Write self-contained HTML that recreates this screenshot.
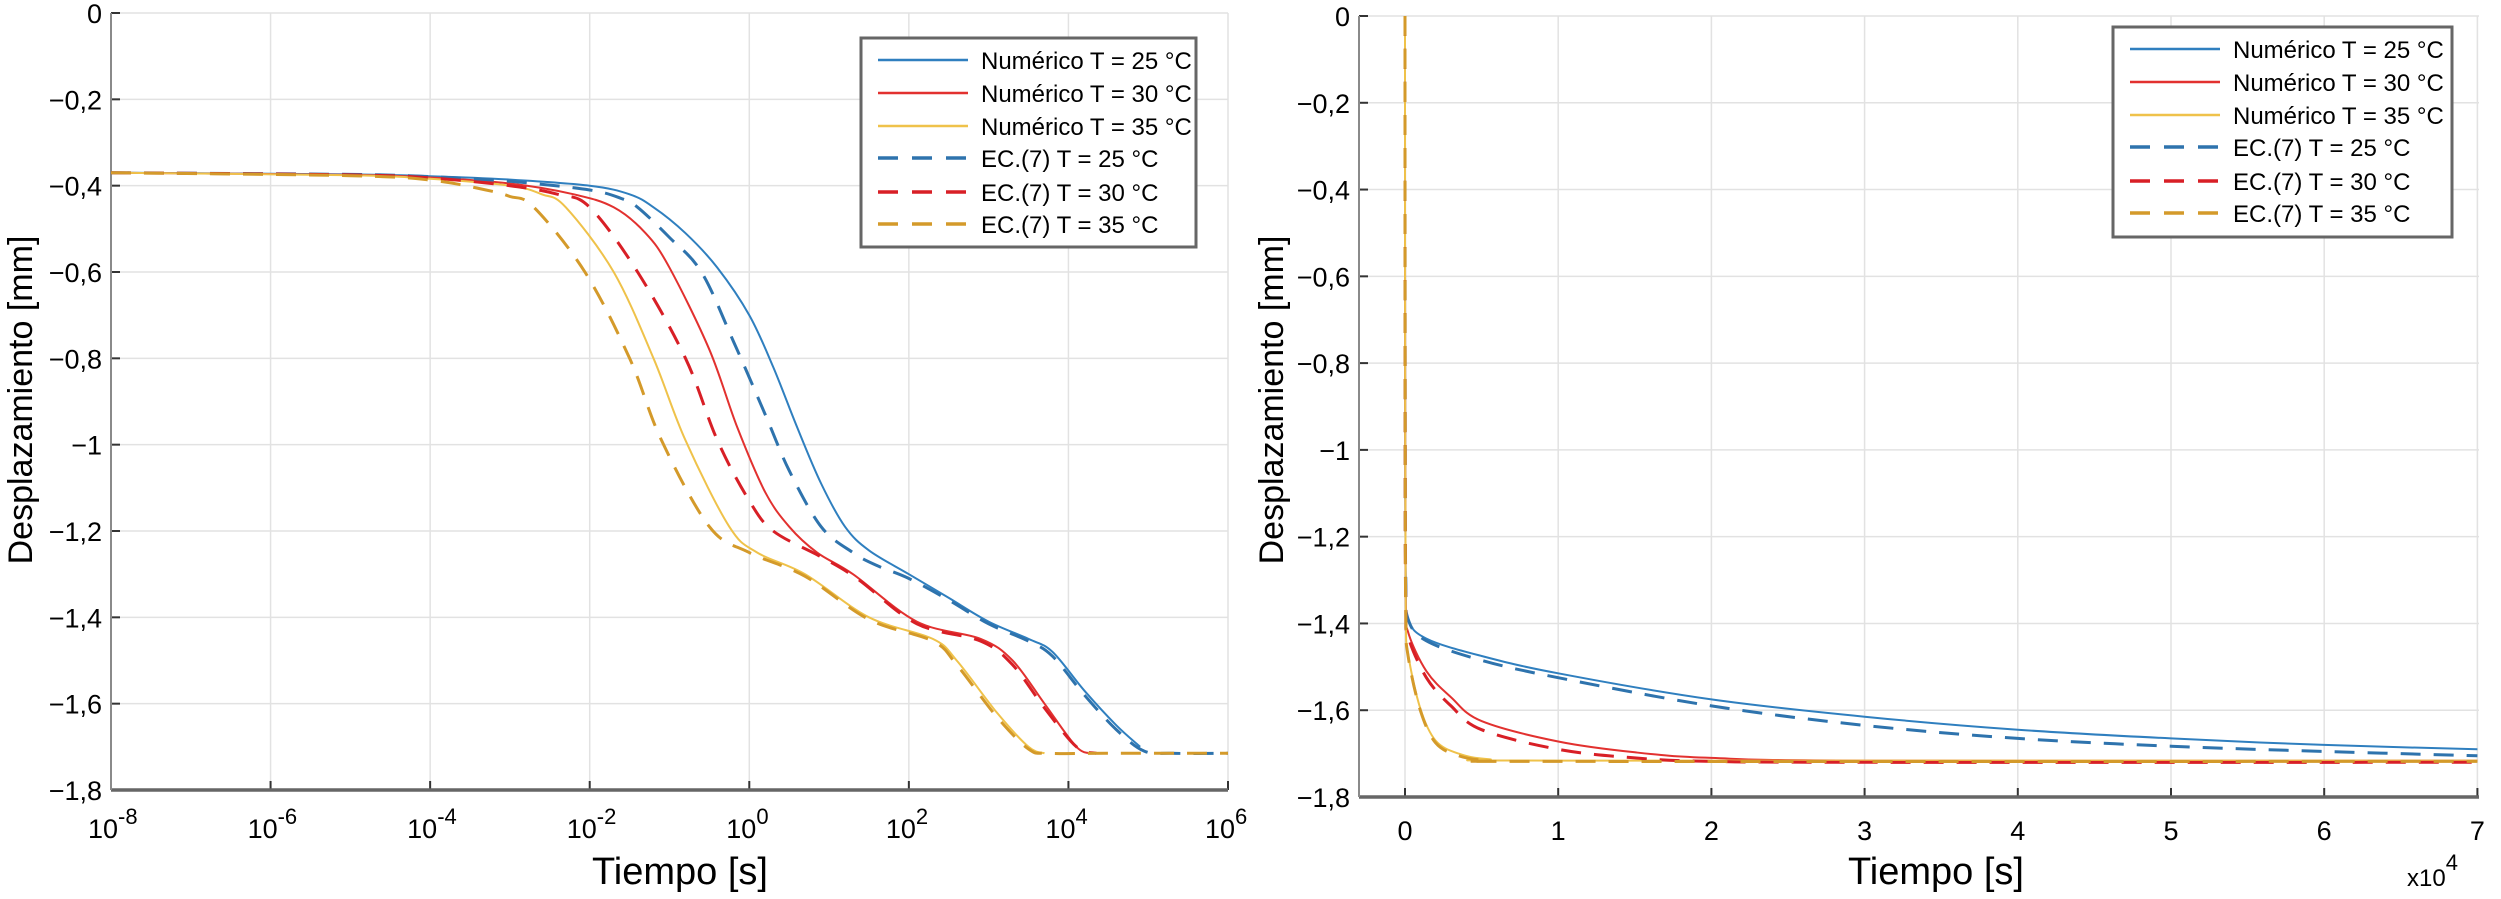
<!DOCTYPE html>
<html><head><meta charset="utf-8">
<style>
html,body{margin:0;padding:0;background:#fff;}
svg{display:block;font-family:"Liberation Sans",Arial,sans-serif;}
</style></head>
<body>
<svg id="fig" width="2501" height="899" viewBox="0 0 2501 899" xmlns="http://www.w3.org/2000/svg"></svg>
<script>
// ---- Left chart data (log10 time vs displacement) ----
const leftYTicks = [0,-0.2,-0.4,-0.6,-0.8,-1,-1.2,-1.4,-1.6,-1.8];
const leftYTickLabels = ["0","\u22120,2","\u22120,4","\u22120,6","\u22120,8","\u22121","\u22121,2","\u22121,4","\u22121,6","\u22121,8"];
const leftXTickExps = [-8,-6,-4,-2,0,2,4,6];
const leftXTickLabels = ["-8","-6","-4","-2","0","2","4","6"];
const blueSolidLogT = [-8,-5,-4,-3,-2,-1.5,-1.2,-0.8,-0.4,0,0.3,0.6,0.9,1.2,1.5,2.0,2.5,3.0,3.5,3.8,4.2,4.6,4.9];
const blueSolidV = [-0.370,-0.374,-0.378,-0.386,-0.40,-0.42,-0.45,-0.51,-0.59,-0.70,-0.82,-0.96,-1.09,-1.19,-1.245,-1.30,-1.355,-1.41,-1.45,-1.48,-1.57,-1.65,-1.70];
const blueDashLogT = [-8,-5,-4,-3,-2,-1.6,-1.4,-1.0,-0.6,-0.2,0.2,0.5,0.9,1.3,1.6,2.0,2.5,3.0,3.5,3.8,4.2,4.6,4.95,5.3,6];
const blueDashV = [-0.370,-0.374,-0.379,-0.39,-0.41,-0.43,-0.45,-0.52,-0.60,-0.76,-0.93,-1.06,-1.19,-1.25,-1.28,-1.31,-1.36,-1.415,-1.455,-1.49,-1.58,-1.66,-1.71,-1.715,-1.715];
const redSolidLogT = [-8,-5,-4,-3,-2.2,-1.7,-1.3,-1.0,-0.5,-0.15,0.2,0.5,0.85,1.3,2.1,2.9,3.3,3.7,4.1,4.3];
const redSolidV = [-0.370,-0.375,-0.381,-0.395,-0.42,-0.45,-0.51,-0.59,-0.78,-0.96,-1.11,-1.19,-1.25,-1.30,-1.41,-1.45,-1.50,-1.60,-1.70,-1.715];
const redDashLogT = [-8,-5,-4,-3,-2.4,-2.0,-1.4,-0.8,-0.4,0,0.3,0.9,1.35,2.1,2.9,3.3,3.7,4.1,4.35];
const redDashV = [-0.370,-0.375,-0.382,-0.40,-0.42,-0.45,-0.60,-0.80,-0.99,-1.13,-1.20,-1.26,-1.31,-1.415,-1.455,-1.51,-1.61,-1.70,-1.715];
const yelSolidLogT = [-8,-5,-4,-3,-2.6,-2.3,-1.7,-1.2,-0.8,-0.25,0.1,0.7,1.5,2.3,2.6,3.1,3.5,3.7];
const yelSolidV = [-0.370,-0.376,-0.384,-0.40,-0.42,-0.45,-0.60,-0.80,-0.99,-1.19,-1.25,-1.30,-1.40,-1.45,-1.50,-1.62,-1.70,-1.715];
const yelDashLogT = [-8,-5,-4,-3.3,-3.0,-2.7,-2.06,-1.5,-1.1,-0.5,0,0.7,1.5,2.3,2.6,3.1,3.5,3.75,4.5,5.5,6];
const yelDashV = [-0.370,-0.377,-0.387,-0.41,-0.425,-0.45,-0.60,-0.80,-0.99,-1.19,-1.25,-1.305,-1.405,-1.455,-1.51,-1.63,-1.705,-1.715,-1.715,-1.715,-1.715];

// ---- Right chart data (time x1e4 s vs displacement) ----
const rightYTicks = [0,-0.2,-0.4,-0.6,-0.8,-1,-1.2,-1.4,-1.6,-1.8];
const rightYTickLabels = leftYTickLabels;
const rightXTicks = [0,1,2,3,4,5,6,7];
const rightXTickLabels = ["0","1","2","3","4","5","6","7"];
const rBlueSolidT = [0,0.001,0.005,0.02,0.14,0.5,1,2,3,4,5,6,7];
const rBlueSolidV = [0,-1.0,-1.30,-1.39,-1.435,-1.475,-1.515,-1.575,-1.615,-1.645,-1.665,-1.68,-1.69];
const rBlueDashT = [0,0.001,0.005,0.02,0.14,0.5,1,2,3,4,5,6,7];
const rBlueDashV = [0,-1.0,-1.30,-1.39,-1.44,-1.485,-1.525,-1.59,-1.635,-1.665,-1.683,-1.695,-1.705];
const rRedSolidT = [0,0.001,0.005,0.02,0.14,0.3,0.5,1,1.5,2,3,7];
const rRedSolidV = [0,-1.0,-1.35,-1.42,-1.51,-1.57,-1.625,-1.672,-1.697,-1.71,-1.716,-1.716];
const rRedDashT = [0,0.001,0.005,0.02,0.14,0.3,0.5,1,1.5,2,3,7];
const rRedDashV = [0,-1.0,-1.36,-1.43,-1.525,-1.59,-1.645,-1.69,-1.71,-1.718,-1.72,-1.72];
const rYelSolidT = [0,0.001,0.005,0.02,0.1,0.2,0.35,0.55,1,7];
const rYelSolidV = [0,-1.0,-1.38,-1.47,-1.596,-1.67,-1.70,-1.713,-1.716,-1.716];
const rYelDashT = [0,0.001,0.005,0.02,0.1,0.2,0.35,0.55,1,7];
const rYelDashV = [0,-1.0,-1.38,-1.475,-1.60,-1.675,-1.705,-1.716,-1.718,-1.718];

const legendLabels = ["Num\u00e9rico T = 25 \u00b0C","Num\u00e9rico T = 30 \u00b0C","Num\u00e9rico T = 35 \u00b0C","EC.(7) T = 25 \u00b0C","EC.(7) T = 30 \u00b0C","EC.(7) T = 35 \u00b0C"];

const NS = "http://www.w3.org/2000/svg";
const svg = document.getElementById('fig');
function mk(tag, attrs, parent){ const e=document.createElementNS(NS,tag); for(const k in attrs) e.setAttribute(k,attrs[k]); (parent||svg).appendChild(e); return e; }

const C = {blue:"#2f7fbf", red:"#e2312f", yel:"#efc24a", bDash:"#2e73ad", rDash:"#d81f26", yDash:"#d49a2a"};
const styles = [
  {c:C.blue,w:2,d:null},{c:C.red,w:2,d:null},{c:C.yel,w:2,d:null},
  {c:C.bDash,w:3,d:"20 13"},{c:C.rDash,w:3,d:"20 13"},{c:C.yDash,w:3,d:"20 13"}];

function smoothPath(pts){
  let d = "M"+pts[0][0].toFixed(1)+","+pts[0][1].toFixed(1);
  for(let i=0;i<pts.length-1;i++){
    const p0=pts[i-1]||pts[i], p1=pts[i], p2=pts[i+1], p3=pts[i+2]||p2;
    const c1=[p1[0]+(p2[0]-p0[0])/6, p1[1]+(p2[1]-p0[1])/6];
    const c2=[p2[0]-(p3[0]-p1[0])/6, p2[1]-(p3[1]-p1[1])/6];
    d+=" C"+c1[0].toFixed(1)+","+c1[1].toFixed(1)+" "+c2[0].toFixed(1)+","+c2[1].toFixed(1)+" "+p2[0].toFixed(1)+","+p2[1].toFixed(1);
  }
  return d;
}

function drawAxes(g, box, xs, ys, yTicks, yLabels, xTickPos){
  xTickPos.forEach(px=>{
    const l=mk('line',{x1:px,y1:box.top,x2:px,y2:box.bottom,stroke:"#e2e2e2","stroke-width":1.5},g);
    
    
  });
  yTicks.forEach((v,i)=>{
    const y=ys(v);
    const l=mk('line',{x1:box.left,y1:y,x2:box.right,y2:y,stroke:"#e2e2e2","stroke-width":1.5},g);
    
    
    const tk=mk('line',{x1:box.left,y1:y,x2:box.left+9,y2:y,stroke:"#333","stroke-width":2},g);
    
    
    const t=mk('text',{x:box.left-9,y:y+10,"text-anchor":"end","font-size":27,fill:"#000"},g);
    t.textContent=yLabels[i];
    
    
  });
  xTickPos.forEach(px=>{
    const tk=mk('line',{x1:px,y1:box.bottom,x2:px,y2:box.bottom-9,stroke:"#333","stroke-width":2},g);
    
    
  });
  const ax=mk('line',{x1:box.left,y1:box.bottom,x2:box.right,y2:box.bottom,stroke:"#666","stroke-width":3.5},g);
  
  
  const ay=mk('line',{x1:box.left,y1:box.top,x2:box.left,y2:box.bottom,stroke:"#8a8a8a","stroke-width":2},g);
  
  
}

function drawSeries(g, xs, ys, X, Y, st, name){
  const pts = X.map((x,i)=>[xs(x), ys(Y[i])]);
  const p=mk('path',{d:smoothPath(pts),fill:"none",stroke:st.c,"stroke-width":st.w,"stroke-linejoin":"round"},g);
  if(st.d) p.setAttribute('stroke-dasharray',st.d);
  
  
}

function drawLegend(g, x0, y0, w, h){
  const r=mk('rect',{x:x0,y:y0,width:w,height:h,fill:"#fff",stroke:"#666","stroke-width":3},g);
  
  
  const lineY=[22,55,88,120,154,186];
  legendLabels.forEach((lab,i)=>{
    const st=styles[i];
    const l=mk('line',{x1:x0+17,y1:y0+lineY[i],x2:x0+107,y2:y0+lineY[i],stroke:st.c,"stroke-width":st.w+0.5},g);
    if(st.d) l.setAttribute('stroke-dasharray',"20 14");
    
    
    const t=mk('text',{x:x0+120,y:y0+lineY[i]+9,"font-size":24,fill:"#000"},g);
    t.textContent=lab;
    
    
  });
}

// ===== Left chart =====
const gL = mk('g',{});


const boxL={left:111,right:1228,top:13,bottom:790};
const xsL = lt => boxL.left + (lt+8)/14*(boxL.right-boxL.left);
const ysL = v => boxL.top + (-v)/1.8*(boxL.bottom-boxL.top);
drawAxes(gL, boxL, xsL, ysL, leftYTicks, leftYTickLabels, leftXTickExps.map(xsL));
leftXTickExps.forEach((e,i)=>{
  const t=mk('text',{x:xsL(e)-23,y:838,"font-size":27,fill:"#000"},gL);
  t.textContent="10";
  const s=mk('tspan',{dy:-14,"font-size":22},t);
  s.textContent=leftXTickLabels[i];
  
  
});
drawSeries(gL,xsL,ysL,blueSolidLogT,blueSolidV,styles[0],'numeric-25-line');
drawSeries(gL,xsL,ysL,redSolidLogT,redSolidV,styles[1],'numeric-30-line');
drawSeries(gL,xsL,ysL,yelSolidLogT,yelSolidV,styles[2],'numeric-35-line');
drawSeries(gL,xsL,ysL,blueDashLogT,blueDashV,styles[3],'ec7-25-line');
drawSeries(gL,xsL,ysL,redDashLogT,redDashV,styles[4],'ec7-30-line');
drawSeries(gL,xsL,ysL,yelDashLogT,yelDashV,styles[5],'ec7-35-line');
drawLegend(gL,861,38,335,209);
const xtL=mk('text',{x:680,y:884,"text-anchor":"middle","font-size":38,fill:"#000"},gL);
xtL.textContent="Tiempo [s]";


const ytL=mk('text',{x:0,y:0,"text-anchor":"middle","font-size":34,fill:"#000",transform:"translate(32,400) rotate(-90)"},gL);
ytL.textContent="Desplazamiento [mm]";



// ===== Right chart =====
const gR = mk('g',{});


const boxR={left:1359,right:2479,top:16,bottom:797};
const x0R=1405, unitR=153.2;
const xsR = t => x0R + t*unitR;
const ysR = v => boxR.top + (-v)/1.8*(boxR.bottom-boxR.top);
drawAxes(gR, boxR, xsR, ysR, rightYTicks, rightYTickLabels, rightXTicks.map(xsR));
rightXTicks.forEach((t,i)=>{
  const tx=mk('text',{x:xsR(t),y:840,"text-anchor":"middle","font-size":27,fill:"#000"},gR);
  tx.textContent=rightXTickLabels[i];
  
  
});
drawSeries(gR,xsR,ysR,rBlueSolidT,rBlueSolidV,styles[0],'numeric-25-line');
drawSeries(gR,xsR,ysR,rRedSolidT,rRedSolidV,styles[1],'numeric-30-line');
drawSeries(gR,xsR,ysR,rYelSolidT,rYelSolidV,styles[2],'numeric-35-line');
drawSeries(gR,xsR,ysR,rBlueDashT,rBlueDashV,styles[3],'ec7-25-line');
drawSeries(gR,xsR,ysR,rRedDashT,rRedDashV,styles[4],'ec7-30-line');
drawSeries(gR,xsR,ysR,rYelDashT,rYelDashV,styles[5],'ec7-35-line');
drawLegend(gR,2113,27,339,210);
const xtR=mk('text',{x:1936,y:884,"text-anchor":"middle","font-size":38,fill:"#000"},gR);
xtR.textContent="Tiempo [s]";


const mult=mk('text',{x:2407,y:886,"font-size":24,fill:"#000"},gR);
mult.textContent="x10";
const ms=mk('tspan',{dy:-16,"font-size":22},mult);
ms.textContent="4";


const ytR=mk('text',{x:0,y:0,"text-anchor":"middle","font-size":34,fill:"#000",transform:"translate(1283,400) rotate(-90)"},gR);
ytR.textContent="Desplazamiento [mm]";


</script>
</body></html>
